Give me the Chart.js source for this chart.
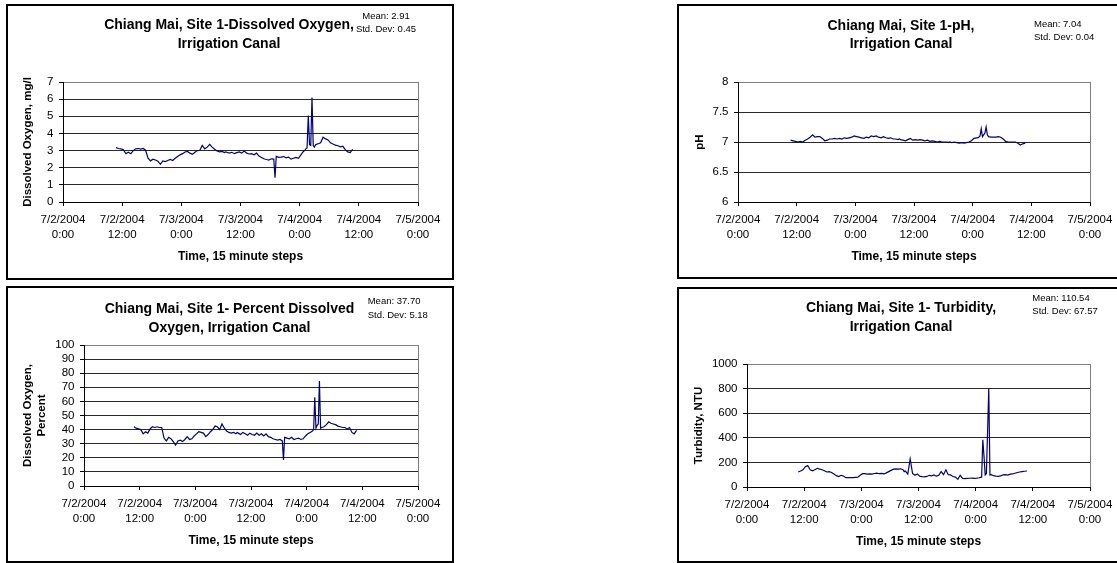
<!DOCTYPE html>
<html>
<head>
<meta charset="utf-8">
<script src="https://cdn.jsdelivr.net/npm/chart.js@4.4.1/dist/chart.umd.min.js"></script>
<style>
  html, body { margin: 0; padding: 0; background: #fff; }
  body { width: 1117px; height: 563px; position: relative; overflow: hidden; font-family: "Liberation Sans", Arial, sans-serif; color: #000; }
  canvas { position: absolute; }
  .panel { position: absolute; box-sizing: border-box; border: 2px solid #000; pointer-events: none; }
  .ttl { position: absolute; width: 448px; text-align: center; font-weight: bold; font-size: 14px; white-space: nowrap; }
  .stat { position: absolute; font-size: 9.5px; white-space: nowrap; }
</style>
</head>
<body>
<canvas id="doChart" width="448" height="276" style="left:6px;top:4px"></canvas>
<canvas id="phChart" width="448" height="275" style="left:677px;top:4px"></canvas>
<canvas id="doPctChart" width="448" height="277" style="left:6px;top:286px"></canvas>
<canvas id="turbChart" width="448" height="276" style="left:677px;top:287px"></canvas>

<div class="panel" style="left:6px;top:4px;width:448px;height:276px"></div>
<div class="panel" style="left:677px;top:4px;width:448px;height:275px"></div>
<div class="panel" style="left:6px;top:286px;width:448px;height:277px"></div>
<div class="panel" style="left:677px;top:287px;width:448px;height:276px"></div>

<div class="ttl" style="left:5px;top:14.5px;line-height:19px">Chiang Mai, Site 1-Dissolved Oxygen,<br>Irrigation Canal</div>
<div class="ttl" style="left:677px;top:16px;line-height:18px">Chiang Mai, Site 1-pH,<br>Irrigation Canal</div>
<div class="ttl" style="left:5.5px;top:298.8px;line-height:19px">Chiang Mai, Site 1- Percent Dissolved<br>Oxygen, Irrigation Canal</div>
<div class="ttl" style="left:677px;top:297.5px;line-height:19.5px">Chiang Mai, Site 1- Turbidity,<br>Irrigation Canal</div>

<div class="stat" style="left:346px;width:80px;text-align:center;top:8.5px;line-height:13px">Mean: 2.91<br>Std. Dev: 0.45</div>
<div class="stat" style="left:1034px;top:16.6px;line-height:13.4px">Mean: 7.04<br>Std. Dev: 0.04</div>
<div class="stat" style="left:367.7px;top:294px;line-height:14px">Mean: 37.70<br>Std. Dev: 5.18</div>
<div class="stat" style="left:1032.3px;top:291px;line-height:13.3px">Mean: 110.54<br>Std. Dev: 67.57</div>

<script>
// hours after 7/2/2004 0:00
const hours = [
  10.75, 11.25, 11.75, 12.25, 12.75, 13.25, 13.75, 14.25, 14.75, 15.25,
  15.75, 16.25, 16.75, 17.25, 17.75, 18.25, 18.75, 19.25, 19.75, 20.25,
  20.75, 21.25, 21.75, 22.25, 22.75, 23.25, 23.75, 24.25, 24.75, 25.25,
  25.75, 26.25, 26.75, 27.25, 27.75, 28.25, 28.75, 29.25, 29.75, 30.25,
  30.75, 31.25, 31.75, 32.25, 32.75, 33.0, 33.25, 33.75, 34.25, 34.75,
  35.25, 35.75, 36.25, 36.75, 37.25, 37.75, 38.25, 38.75, 39.25, 39.75,
  40.25, 40.75, 41.25, 41.75, 42.25, 42.75, 43.0, 43.25, 43.75, 44.25,
  44.75, 45.25, 45.75, 46.25, 46.75, 47.25, 47.75, 48.25, 48.75, 49.0,
  49.25, 49.5, 49.75, 50.0, 50.25, 50.5, 50.75, 51.0, 51.25, 51.75,
  52.25, 52.75, 53.25, 53.75, 54.25, 54.75, 55.25, 55.75, 56.25, 56.75,
  57.25, 57.75, 58.25, 58.75
];

// Dissolved oxygen, mg/l
const doValues = [
  3.17, 3.12, 3.1, 3.05, 2.82, 2.9, 2.82, 3.0, 3.1, 3.12,
  3.08, 3.12, 3.02, 2.55, 2.4, 2.5, 2.45, 2.38, 2.2, 2.4,
  2.36, 2.42, 2.48, 2.42, 2.55, 2.65, 2.75, 2.82, 2.92, 2.95,
  2.85, 2.78, 2.9, 3.0, 3.02, 3.3, 3.1, 3.2, 3.36, 3.2,
  3.08, 2.98, 2.92, 2.95, 2.88, 2.92, 2.9, 2.85, 2.9, 2.82,
  2.88, 2.92, 2.85, 2.97, 2.85, 2.8, 2.82, 2.75, 2.85, 2.68,
  2.6, 2.52, 2.48, 2.45, 2.52, 2.5, 1.42, 2.66, 2.6, 2.62,
  2.65, 2.58, 2.62, 2.5, 2.55, 2.6, 2.55, 2.75, 2.95, 3.0,
  3.1, 3.15, 5.05, 3.35, 3.3, 6.1, 3.3, 3.2, 3.35, 3.4,
  3.45, 3.78, 3.68, 3.62, 3.45, 3.38, 3.32, 3.28, 3.22, 3.25,
  3.05, 2.92, 2.88, 3.07
];

// pH
const phValues = [
  7.03, 7.02, 7.01, 7.0, 7.01, 7.0, 7.03, 7.05, 7.08, 7.12,
  7.08, 7.09, 7.09, 7.06, 7.02, 7.03, 7.05, 7.05, 7.06, 7.05,
  7.06, 7.05, 7.07, 7.06, 7.07, 7.08, 7.1, 7.09, 7.08, 7.07,
  7.06, 7.08, 7.07, 7.1, 7.09, 7.1, 7.08, 7.07, 7.09, 7.07,
  7.06, 7.07, 7.05, 7.05, 7.04, 7.05, 7.04, 7.03, 7.02, 7.04,
  7.06, 7.03, 7.04, 7.03, 7.04, 7.03, 7.02, 7.03, 7.01, 7.02,
  7.01, 7.0, 7.01, 7.0, 7.0, 7.0, 6.99, 7.0, 6.99, 7.0,
  6.99, 6.98, 6.99, 6.98, 6.99, 7.0, 7.02, 7.06, 7.07, 7.07,
  7.08, 7.1, 7.22, 7.09, 7.12, 7.15, 7.25, 7.12, 7.09, 7.08,
  7.08, 7.08, 7.09, 7.08, 7.05, 7.01, 7.0, 7.0, 7.0, 7.0,
  6.98, 6.95, 6.97, 6.98
];

// Dissolved oxygen, percent
const doPctValues = [
  42, 41, 40.5, 40, 37, 38.5, 37.5, 40.5, 42, 41.5,
  42, 41.5, 41.5, 34, 32, 34.5, 33.5, 31.5, 29, 32,
  32.5, 31.5, 33, 35, 33, 33.5, 35.5, 37, 38.5, 38,
  37.5, 35, 36.5, 38.5, 40, 42.5, 42, 40, 44, 41,
  39, 38, 37.5, 38, 37, 38, 37.5, 36.5, 38, 37,
  36, 37.5, 36.5, 36, 37.5, 36, 37, 35.5, 37, 35,
  34.5, 33.5, 33, 32.5, 33, 32, 18.5, 34.5, 34, 33.5,
  34.5, 33, 33.5, 34, 33, 33.5, 35.5, 37, 38, 38.5,
  39, 40, 63, 41, 43, 44, 74.5, 41, 41.5, 42,
  43.5, 45.5, 44.5, 44, 43.5, 42.5, 42, 41.5, 41.5, 40.5,
  41.5, 38, 37, 39.5
];

// Turbidity, NTU
const turbValues = [
  122, 130, 140, 165, 175, 140, 132, 140, 152, 145,
  140, 132, 122, 125, 118, 105, 92, 85, 95, 90,
  76, 76, 76, 76, 78, 80, 95, 108, 108, 105,
  107, 105, 110, 112, 108, 110, 106, 115, 125, 135,
  145, 147, 145, 148, 140, 125, 130, 105, 228, 110,
  95, 105, 88, 84, 82, 86, 95, 90, 98, 88,
  95, 125, 100, 140, 100, 98, 92, 85, 80, 62,
  95, 70, 68, 70, 71, 72, 70, 72, 75, 78,
  80, 383, 250, 98, 110, 450, 800, 98, 100, 92,
  88, 86, 90, 98, 100, 97, 105, 106, 112, 118,
  122, 125, 128, 130
];

const xTickDates = ['7/2/2004', '7/2/2004', '7/3/2004', '7/3/2004', '7/4/2004', '7/4/2004', '7/5/2004'];
const xTickTimes = ['0:00', '12:00', '0:00', '12:00', '0:00', '12:00', '0:00'];

Chart.defaults.font.family = '"Liberation Sans", Arial, sans-serif';
Chart.defaults.color = '#000';

// gray right edge of the plot area, like the Excel plot frame
const plotFrame = {
  id: 'plotFrame',
  afterDraw(chart) {
    const { ctx, chartArea } = chart;
    const x = Math.round(chartArea.right) + 0.5;
    ctx.save();
    ctx.strokeStyle = '#808080';
    ctx.lineWidth = 1;
    ctx.beginPath();
    ctx.moveTo(x, chartArea.top);
    ctx.lineTo(x, chartArea.bottom);
    ctx.stroke();
    ctx.restore();
  }
};

function buildChart(id, values, cfg) {
  const points = hours.map((h, i) => ({ x: h, y: values[i] }));
  return new Chart(document.getElementById(id), {
    type: 'line',
    data: {
      datasets: [{
        data: points,
        borderColor: '#000080',
        borderWidth: 1.2,
        pointRadius: 0,
        tension: 0,
        fill: false
      }]
    },
    options: {
      responsive: false,
      animation: false,
      devicePixelRatio: 1,
      layout: { padding: { top: cfg.padTop, right: cfg.padRight, bottom: 0, left: 0 } },
      plugins: {
        legend: { display: false },
        title: { display: false },
        tooltip: { enabled: false }
      },
      scales: {
        x: {
          type: 'linear',
          min: 0,
          max: 72,
          afterFit: s => { s.height = cfg.xHeight; },
          border: { display: true, color: '#000', width: 1 },
          grid: { display: true, drawOnChartArea: false, drawTicks: true, tickLength: 4, tickColor: '#000' },
          ticks: {
            stepSize: 12,
            autoSkip: false,
            maxRotation: 0,
            padding: 6.5,
            font: { size: 11.5, lineHeight: 1.3 },
            callback: v => [xTickDates[v / 12], xTickTimes[v / 12]]
          },
          title: {
            display: true,
            text: 'Time, 15 minute steps',
            font: { size: 12, weight: 'bold' },
            padding: { top: 0, bottom: cfg.xTitlePad }
          }
        },
        y: {
          min: cfg.yMin,
          max: cfg.yMax,
          afterFit: s => { s.width = cfg.yWidth; },
          border: { display: true, color: '#000', width: 1 },
          grid: {
            color: c => (c.tick && c.tick.value === cfg.yMax) ? '#808080' : '#2a2a2a',
            lineWidth: 1,
            tickLength: 4,
            tickColor: '#000'
          },
          ticks: {
            stepSize: cfg.yStep,
            autoSkip: false,
            padding: 5.5,
            font: { size: 11.5 },
            callback: v => String(v)
          },
          title: {
            display: true,
            text: cfg.yTitle,
            font: { size: 11.5, weight: 'bold', lineHeight: 1.2 },
            padding: { top: cfg.yTitlePad, bottom: 0 }
          }
        }
      }
    },
    plugins: [plotFrame]
  });
}

buildChart('doChart', doValues, {
  yMin: 0, yMax: 7, yStep: 1, yTitle: 'Dissolved Oxygen, mg/l',
  yWidth: 57, xHeight: 78, padTop: 78, padRight: 36, yTitlePad: 15, xTitlePad: 15.8
});
buildChart('phChart', phValues, {
  yMin: 6, yMax: 8, yStep: 0.5, yTitle: 'pH',
  yWidth: 61, xHeight: 77, padTop: 78, padRight: 35, yTitlePad: 16, xTitlePad: 14.8
});
buildChart('doPctChart', doPctValues, {
  yMin: 0, yMax: 100, yStep: 10, yTitle: ['Dissolved Oxygen,', 'Percent'],
  yWidth: 78, xHeight: 77, padTop: 59, padRight: 36, yTitlePad: 15, xTitlePad: 14.8
});
buildChart('turbChart', turbValues, {
  yMin: 0, yMax: 1000, yStep: 200, yTitle: 'Turbidity, NTU',
  yWidth: 70, xHeight: 76, padTop: 77, padRight: 35, yTitlePad: 15.4, xTitlePad: 14.1
});
</script>
</body>
</html>
